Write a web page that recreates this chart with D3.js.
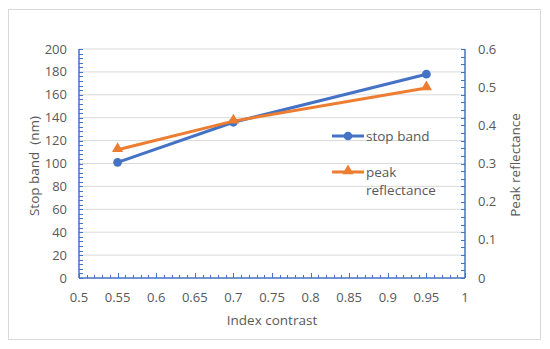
<!DOCTYPE html>
<html><head><meta charset="utf-8">
<script src="https://cdn.jsdelivr.net/npm/d3@7"></script>
<style>body{margin:0;background:#fff}text{font-family:"Open Sans","Noto Sans",sans-serif;fill:#595959}</style>
</head><body><svg id="c" width="550" height="349"></svg>
<script>
const indexContrast = [0.55, 0.7, 0.95];
const stopBand = [101, 136, 178];
const peakReflectance = [0.336, 0.411, 0.498];
const xTicks = [0.5,0.55,0.6,0.65,0.7,0.75,0.8,0.85,0.9,0.95,1];
const yLeftTicks = [0,20,40,60,80,100,120,140,160,180,200];
const yRightTicks = [0,0.1,0.2,0.3,0.4,0.5,0.6];
const seriesNames = ["stop band","peak reflectance"];

const svg = d3.select("#c");
const blue="#4472C4", orange="#ED7D31";
const L=79,R=465,T=49,B=278;
const x=d3.scaleLinear().domain([0.5,1]).range([L,R]);
const yL=d3.scaleLinear().domain([0,200]).range([B,T]);
const yR=d3.scaleLinear().domain([0,0.6]).range([B,T]);

svg.append("rect").attr("x",8.5).attr("y",9.5).attr("width",532).attr("height",330).attr("fill","#fff").attr("stroke","#d9d9d9");

// gridlines
svg.append("g").selectAll("line").data(yLeftTicks.filter(d=>d>0)).join("line")
 .attr("x1",L).attr("x2",R).attr("y1",d=>yL(d)).attr("y2",d=>yL(d)).attr("stroke","#d9d9d9").attr("stroke-width",1);

// minor ticks
const g=svg.append("g").attr("stroke",blue).attr("stroke-width",1);
d3.range(0,201,4).forEach(v=>{const yy=Math.round(yL(v))+0.5;g.append("line").attr("x1",L).attr("x2",L+4).attr("y1",yy).attr("y2",yy);});
d3.range(0,0.601,0.02).forEach(v=>{const yy=Math.round(yR(v))+0.5;g.append("line").attr("x1",R-4).attr("x2",R).attr("y1",yy).attr("y2",yy);});
d3.range(0.5,1.0001,0.01).forEach((v,i)=>{const xx=Math.round(x(v))+0.5;g.append("line").attr("x1",xx).attr("x2",xx).attr("y1",B).attr("y2",B-(i%5===0?5:3));});
// axis lines
g.append("line").attr("x1",L).attr("x2",L).attr("y1",T).attr("y2",B).attr("stroke-width",1.5);
g.append("line").attr("x1",R).attr("x2",R).attr("y1",T).attr("y2",B).attr("stroke-width",1.5);
g.append("line").attr("x1",L).attr("x2",R).attr("y1",B).attr("y2",B).attr("stroke-width",1.5);

// tick labels
svg.append("g").selectAll("text").data(yLeftTicks).join("text")
 .attr("x",67).attr("y",d=>yL(d)).attr("dy","0.35em").attr("text-anchor","end").attr("font-size",13).text(d=>d);
svg.append("g").selectAll("text").data(yRightTicks).join("text")
 .attr("x",478).attr("y",d=>yR(d)).attr("dy","0.35em").attr("text-anchor","start").attr("font-size",13).text(d=>d);
svg.append("g").selectAll("text").data(xTicks).join("text")
 .attr("x",d=>x(d)).attr("y",297).attr("dy","0.35em").attr("text-anchor","middle").attr("font-size",13).text(d=>d);

// titles
svg.append("text").attr("x",272).attr("y",320).attr("dy","0.35em").attr("text-anchor","middle").attr("font-size",13.5).text("Index contrast");
svg.append("text").attr("transform","translate(34,166) rotate(-90)").attr("dy","0.35em").attr("text-anchor","middle").attr("font-size",13.5).style("white-space","pre").text("Stop band  (nm)");
svg.append("text").attr("transform","translate(515,165) rotate(-90)").attr("dy","0.35em").attr("text-anchor","middle").attr("font-size",13.5).text("Peak reflectance");

// series
const ptsA=indexContrast.map((v,i)=>[x(v),yL(stopBand[i])]);
const ptsB=indexContrast.map((v,i)=>[x(v),yR(peakReflectance[i])]);
const line=d3.line();
svg.append("path").attr("d",line(ptsA)).attr("fill","none").attr("stroke",blue).attr("stroke-width",3).attr("stroke-linejoin","round");
svg.append("path").attr("d",line(ptsB)).attr("fill","none").attr("stroke",orange).attr("stroke-width",3).attr("stroke-linejoin","round");
const tri=d3.symbol().type(d3.symbolTriangle).size(55);
const circ=d3.symbol().type(d3.symbolCircle).size(60);
svg.append("g").selectAll("path").data(ptsA).join("path").attr("d",circ).attr("transform",d=>`translate(${d[0]},${d[1]})`).attr("fill",blue);
svg.append("g").selectAll("path").data(ptsB).join("path").attr("d",tri).attr("transform",d=>`translate(${d[0]},${d[1]-1})`).attr("fill",orange);

// legend
const lg=svg.append("g");
lg.append("line").attr("x1",332).attr("x2",364).attr("y1",136).attr("y2",136).attr("stroke",blue).attr("stroke-width",3);
lg.append("path").attr("d",circ).attr("transform","translate(348,136)").attr("fill",blue);
lg.append("text").attr("x",366).attr("y",136).attr("dy","0.35em").attr("font-size",13.5).text(seriesNames[0]);
lg.append("line").attr("x1",332).attr("x2",364).attr("y1",172).attr("y2",172).attr("stroke",orange).attr("stroke-width",3);
lg.append("path").attr("d",tri).attr("transform","translate(348,171)").attr("fill",orange);
lg.append("text").attr("x",366).attr("y",172).attr("dy","0.35em").attr("font-size",13.5).text("peak");
lg.append("text").attr("x",366).attr("y",190).attr("dy","0.35em").attr("font-size",13.5).text("reflectance");
</script></body></html>
